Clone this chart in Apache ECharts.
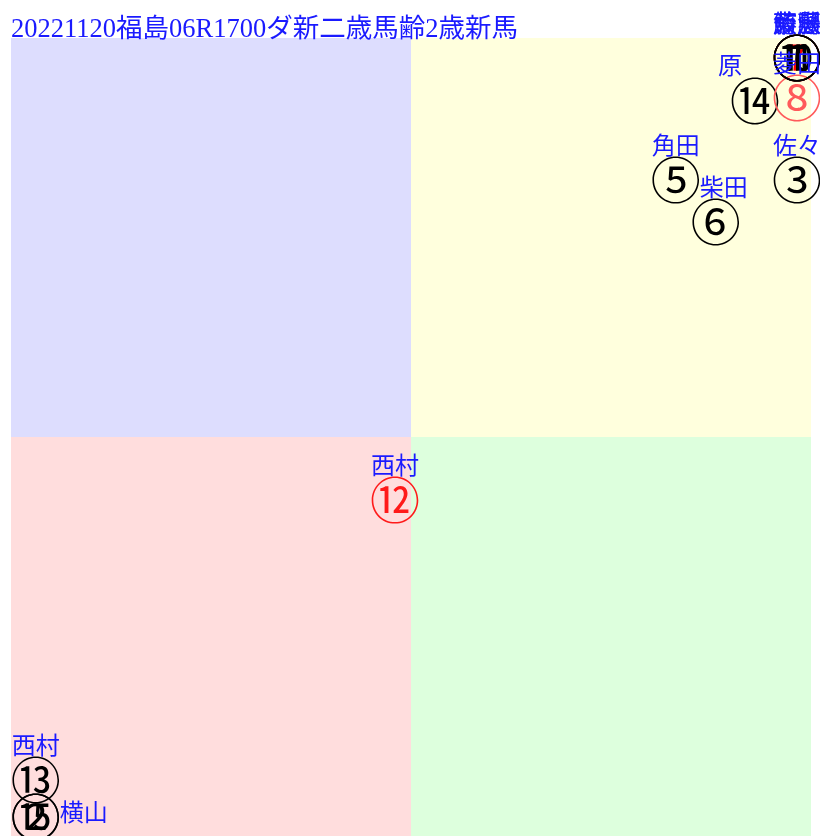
<!DOCTYPE html>
<html><head><meta charset="utf-8">
<script src="https://cdn.jsdelivr.net/npm/echarts@6/dist/echarts.min.js"></script>
<style>html,body{margin:0;padding:0;background:#fff}#c{width:820px;height:836px}</style>
</head><body><div id="c"></div>
<script>
const titleText = '20221120福島06R1700ダ新二歳馬齢2歳新馬';
const horseNums = ['⑫','⑬','②','⑮','⑤','⑥','③','⑭','⑧','⑦','⑩','⑪','①'];
const jockeys   = ['西村','西村','','横山','角田','柴田','佐々','原','菱田','鮫島','藤懸','菊沢','斎藤'];
const xVals     = [48.0, 3.1, 3.1, 3.1, 83.1, 88.1, 98.25, 93.0, 98.25, 98.25, 98.25, 98.25, 98.25];
const yVals     = [42.1, 7.0, 2.4, 2.4, 82.2, 76.9, 82.2, 92.1, 92.5, 97.5, 97.5, 97.5, 97.5];
const favourites = ['⑫','⑧','⑦'];
const quadrantSplit = 50;

const FONT = '"Liberation Serif","Noto Sans CJK JP",serif';
const numColor = n => n === '⑫' ? '#ff1a1a' : (n === '⑧' ? '#ff5a5a' : (favourites.includes(n) ? '#ff0000' : '#000'));
const nameOffset = (n) => {
  if (n === '⑮') return [48, -2];
  if (n === '⑭') return [-25, -33];
  if (n === '⑥') return [8, -33];
  return [0, -32];
};

const numData = horseNums.map((n, i) => ({
  value: [xVals[i], yVals[i]],
  label: { color: numColor(n) }
}));
const nameData = horseNums.map((n, i) => ({
  value: [xVals[i], yVals[i]],
  name: jockeys[i],
  label: { offset: nameOffset(n) }
}));

const chart = echarts.init(document.getElementById('c'), null, {renderer: 'canvas'});
chart.setOption({
  animation: false,
  title: { text: titleText, left: 6, top: 12, textStyle: { fontFamily: FONT, fontSize: 26.5, fontWeight: 'normal', color: '#1a1aff' } },
  grid: { left: 11, right: 9, top: 38, bottom: 0 },
  xAxis: { type: 'value', min: 0, max: 100, show: false },
  yAxis: { type: 'value', min: 0, max: 100, show: false },
  series: [
    {
      type: 'scatter', symbolSize: 0, data: [], z: 1,
      markArea: {
        silent: true,
        data: [
          [{ coord: [0, quadrantSplit], itemStyle: { color: '#ddddfe' } }, { coord: [quadrantSplit, 100] }],
          [{ coord: [quadrantSplit, quadrantSplit], itemStyle: { color: '#ffffdd' } }, { coord: [100, 100] }],
          [{ coord: [0, 0], itemStyle: { color: '#ffdddd' } }, { coord: [quadrantSplit, quadrantSplit] }],
          [{ coord: [quadrantSplit, 0], itemStyle: { color: '#ddffdd' } }, { coord: [100, quadrantSplit] }]
        ]
      }
    },
    {
      type: 'scatter', symbolSize: 1, itemStyle: { color: 'rgba(0,0,0,0)', opacity: 1 }, z: 3, clip: false,
      data: numData,
      label: { show: true, position: 'inside', offset: [0, 6], formatter: (p) => horseNums[p.dataIndex], fontFamily: FONT, fontSize: 50, color: '#000' }
    },
    {
      type: 'scatter', symbolSize: 1, itemStyle: { color: 'rgba(0,0,0,0)', opacity: 1 }, z: 4, clip: false,
      data: nameData,
      label: { show: true, position: 'inside', formatter: (p) => p.name, fontFamily: FONT, fontSize: 24, color: '#1a1aff' }
    }
  ]
});
</script></body></html>
